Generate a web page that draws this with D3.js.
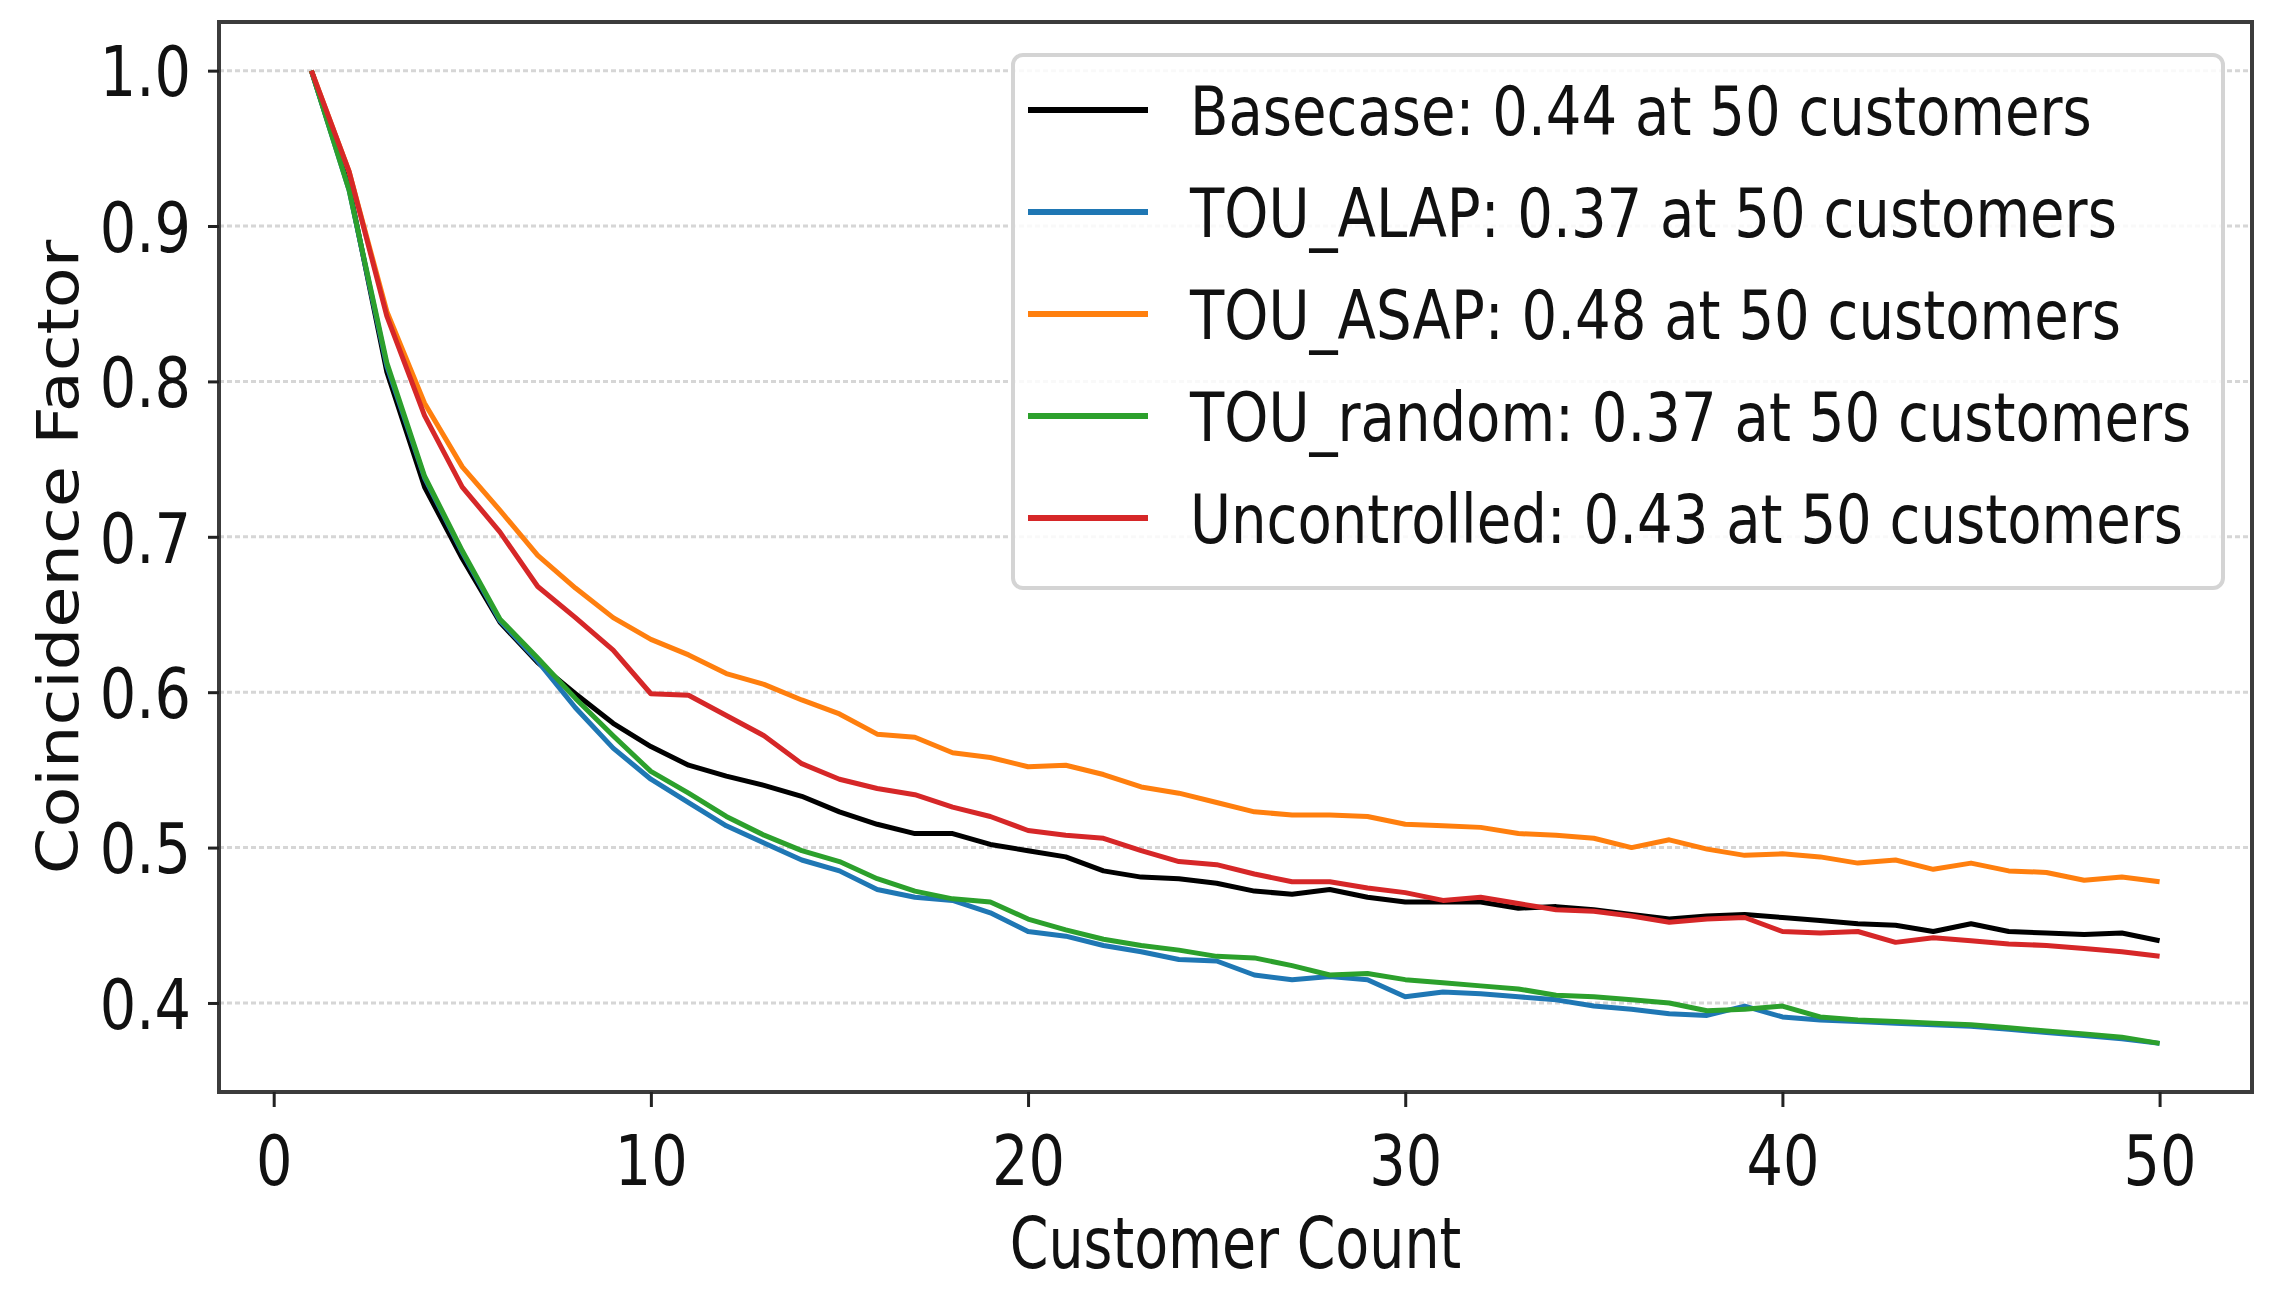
<!DOCTYPE html>
<html>
<head>
<meta charset="utf-8">
<script src="https://cdn.jsdelivr.net/npm/d3@7"></script>
<style>
  body { margin: 0; background: #fff; }
  svg { display: block; font-family: "DejaVu Sans", sans-serif; }
</style>
</head>
<body>
<svg id="chart"></svg>
<script>
const WIDTH = 2269;
const HEIGHT = 1304;
const PLOT = {left: 219, right: 2252, top: 22, bottom: 1092};

// customers on the x axis
const customerCount = [
  1, 2, 3, 4, 5, 6, 7, 8, 9, 10, 11, 12, 13, 14, 15, 16, 17, 18, 19, 20,
  21, 22, 23, 24, 25, 26, 27, 28, 29, 30, 31, 32, 33, 34, 35, 36, 37, 38, 39, 40,
  41, 42, 43, 44, 45, 46, 47, 48, 49, 50
];

const basecase = [
  1.0, 0.925, 0.806, 0.732, 0.686, 0.645, 0.619, 0.599, 0.580, 0.565,
  0.553, 0.546, 0.540, 0.533, 0.523, 0.515, 0.509, 0.509, 0.502, 0.498,
  0.494, 0.485, 0.481, 0.480, 0.477, 0.472, 0.470, 0.473, 0.468, 0.465,
  0.465, 0.465, 0.461, 0.462, 0.460, 0.457, 0.454, 0.456, 0.457, 0.455,
  0.453, 0.451, 0.450, 0.446, 0.451, 0.446, 0.445, 0.444, 0.445, 0.440
];

const touAlap = [
  1.0, 0.923, 0.810, 0.738, 0.690, 0.646, 0.620, 0.590, 0.564, 0.544,
  0.529, 0.514, 0.503, 0.492, 0.485, 0.473, 0.468, 0.466, 0.458, 0.446,
  0.443, 0.437, 0.433, 0.428, 0.427, 0.418, 0.415, 0.417, 0.415, 0.404,
  0.407, 0.406, 0.404, 0.402, 0.398, 0.396, 0.393, 0.392, 0.398, 0.391,
  0.389, 0.388, 0.387, 0.386, 0.385, 0.383, 0.381, 0.379, 0.377, 0.374
];

const touAsap = [
  1.0, 0.935, 0.845, 0.786, 0.745, 0.717, 0.688, 0.667, 0.648, 0.634,
  0.624, 0.612, 0.605, 0.595, 0.586, 0.573, 0.571, 0.561, 0.558, 0.552,
  0.553, 0.547, 0.539, 0.535, 0.529, 0.523, 0.521, 0.521, 0.520, 0.515,
  0.514, 0.513, 0.509, 0.508, 0.506, 0.500, 0.505, 0.499, 0.495, 0.496,
  0.494, 0.490, 0.492, 0.486, 0.490, 0.485, 0.484, 0.479, 0.481, 0.478
];

const touRandom = [
  1.0, 0.923, 0.812, 0.739, 0.691, 0.647, 0.622, 0.596, 0.572, 0.549,
  0.535, 0.520, 0.508, 0.498, 0.491, 0.480, 0.472, 0.467, 0.465, 0.454,
  0.447, 0.441, 0.437, 0.434, 0.430, 0.429, 0.424, 0.418, 0.419, 0.415,
  0.413, 0.411, 0.409, 0.405, 0.404, 0.402, 0.400, 0.395, 0.396, 0.398,
  0.391, 0.389, 0.388, 0.387, 0.386, 0.384, 0.382, 0.380, 0.378, 0.374
];

const uncontrolled = [
  1.0, 0.935, 0.842, 0.778, 0.732, 0.703, 0.668, 0.648, 0.627, 0.599,
  0.598, 0.585, 0.572, 0.554, 0.544, 0.538, 0.534, 0.526, 0.520, 0.511,
  0.508, 0.506, 0.498, 0.491, 0.489, 0.483, 0.478, 0.478, 0.474, 0.471,
  0.466, 0.468, 0.464, 0.460, 0.459, 0.456, 0.452, 0.454, 0.455, 0.446,
  0.445, 0.446, 0.439, 0.442, 0.440, 0.438, 0.437, 0.435, 0.433, 0.430
];

const seriesNames = ['Basecase', 'TOU_ALAP', 'TOU_ASAP', 'TOU_random', 'Uncontrolled'];
const seriesColors = ['#000000', '#1f77b4', '#ff7f0e', '#2ca02c', '#d62728'];
const seriesValues = [basecase, touAlap, touAsap, touRandom, uncontrolled];

const xTicks = [0, 10, 20, 30, 40, 50];
const yTicks = [0.4, 0.5, 0.6, 0.7, 0.8, 0.9, 1.0];

const series = seriesNames.map((name, i) => ({
  name: name,
  color: seriesColors[i],
  values: seriesValues[i]
}));

const svg = d3.select('#chart')
  .attr('width', WIDTH)
  .attr('height', HEIGHT);

// matplotlib style 5% margins
const xPad = (d3.max(customerCount) - d3.min(customerCount)) * 0.05;
const x = d3.scaleLinear()
  .domain([d3.min(customerCount) - xPad, d3.max(customerCount) + xPad])
  .range([PLOT.left, PLOT.right]);

const [yMin, yMax] = d3.extent([].concat(...seriesValues));
const yPad = (yMax - yMin) * 0.05;
const y = d3.scaleLinear()
  .domain([yMin - yPad, yMax + yPad])
  .range([PLOT.bottom, PLOT.top]);

svg.append('g').attr('id', 'grid')
  .selectAll('line')
  .data(yTicks)
  .join('line')
    .attr('x1', PLOT.left)
    .attr('x2', PLOT.right)
    .attr('y1', d => y(d))
    .attr('y2', d => y(d))
    .attr('stroke', '#d6d6d6')
    .attr('stroke-width', 3)
    .attr('stroke-dasharray', '5,3');

const line = d3.line()
  .x((d, i) => x(customerCount[i]))
  .y(d => y(d));

svg.append('g').attr('id', 'lines')
  .selectAll('path')
  .data(series)
  .join('path')
    .attr('d', d => line(d.values))
    .attr('fill', 'none')
    .attr('stroke', d => d.color)
    .attr('stroke-width', 5)
    .attr('stroke-linejoin', 'round');

svg.append('rect')
  .attr('x', PLOT.left)
  .attr('y', PLOT.top)
  .attr('width', PLOT.right - PLOT.left)
  .attr('height', PLOT.bottom - PLOT.top)
  .attr('fill', 'none')
  .attr('stroke', '#3c3c3c')
  .attr('stroke-width', 4);

/**
 * Axes
 */
const xAxis = svg.append('g')
  .attr('transform', `translate(0,${PLOT.bottom})`)
  .call(d3.axisBottom(x).tickValues(xTicks).tickSize(15).tickFormat(d3.format('d')))
  .attr('font-family', null)
  .attr('font-size', null);
xAxis.select('.domain').remove();
xAxis.selectAll('.tick line')
  .attr('stroke', '#222')
  .attr('stroke-width', 3);
xAxis.selectAll('.tick text')
  .attr('y', null)
  .attr('dy', null)
  .attr('transform', 'translate(0,93) scale(0.82,1)')
  .attr('font-size', 70)
  .attr('fill', '#111');

const yAxis = svg.append('g')
  .attr('transform', `translate(${PLOT.left},0)`)
  .call(d3.axisLeft(y).tickValues(yTicks).tickSize(11).tickFormat(d3.format('.1f')))
  .attr('font-family', null)
  .attr('font-size', null);
yAxis.select('.domain').remove();
yAxis.selectAll('.tick line')
  .attr('stroke', '#222')
  .attr('stroke-width', 3);
yAxis.selectAll('.tick text')
  .attr('x', null)
  .attr('dy', '0.36em')
  .attr('transform', 'translate(-28,0) scale(0.82,1)')
  .attr('font-size', 70)
  .attr('fill', '#111');

svg.append('text')
  .attr('transform', `translate(${(PLOT.left + PLOT.right) / 2},1268) scale(0.77,1)`)
  .attr('text-anchor', 'middle')
  .attr('font-size', 72)
  .attr('fill', '#111')
  .text('Customer Count');

svg.append('text')
  .attr('transform', `translate(78,${(PLOT.top + PLOT.bottom) / 2}) rotate(-90) scale(1,0.85)`)
  .attr('text-anchor', 'middle')
  .attr('font-size', 67)
  .attr('fill', '#111')
  .text('Coincidence Factor');

/**
 * Legend
 */
const legend = svg.append('g').attr('id', 'legend');
legend.append('rect')
  .attr('x', 1013)
  .attr('y', 55)
  .attr('width', 1210)
  .attr('height', 533)
  .attr('rx', 10)
  .attr('fill', '#fff')
  .attr('fill-opacity', 0.85)
  .attr('stroke', '#d4d4d4')
  .attr('stroke-width', 4);

const item = legend.selectAll('g.item')
  .data(series)
  .join('g')
    .attr('class', 'item')
    .attr('transform', (d, i) => `translate(1028,${110 + i * 102})`);

item.append('line')
  .attr('x1', 0)
  .attr('x2', 120)
  .attr('stroke', d => d.color)
  .attr('stroke-width', 6);

item.append('text')
  .attr('transform', 'translate(162,25) scale(0.825,1)')
  .attr('font-size', 68)
  .attr('fill', '#111')
  .text(d => `${d.name}: ${d.values[d.values.length - 1].toFixed(2)} at 50 customers`);
</script>
</body>
</html>
